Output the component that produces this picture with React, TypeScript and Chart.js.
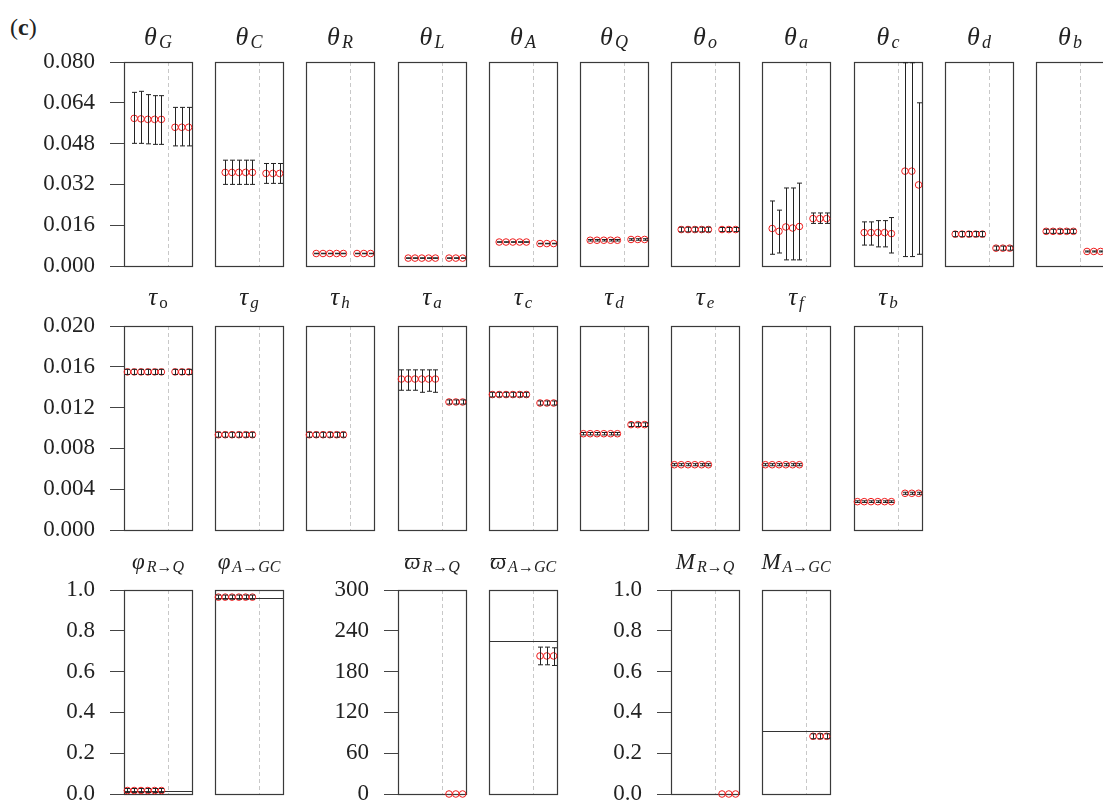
import React, { useEffect, useRef } from "react";
import { Chart, registerables } from "chart.js";
Chart.register(...registerables);

// ---------- data ----------
const xPositions = [0, 1, 2, 3, 4, 5, 6, 7, 8, 9];
const dividerX = 6;

const row1Ticks = [0, 0.016, 0.032, 0.048, 0.064, 0.08];
const row1TickLabels = ["0.000", "0.016", "0.032", "0.048", "0.064", "0.080"];
const row2Ticks = [0, 0.004, 0.008, 0.012, 0.016, 0.02];
const row2TickLabels = ["0.000", "0.004", "0.008", "0.012", "0.016", "0.020"];
const unitTicks = [0, 0.2, 0.4, 0.6, 0.8, 1.0];
const unitTickLabels = ["0.0", "0.2", "0.4", "0.6", "0.8", "1.0"];
const varpiTicks = [0, 60, 120, 180, 240, 300];
const varpiTickLabels = ["0", "60", "120", "180", "240", "300"];

type V = number | null;
const _ = null;

// Row 1 (theta)
const thetaG_mean: V[] = [_, 0.0579, 0.0577, 0.0575, 0.0575, 0.0575, _, 0.0544, 0.0544, 0.0544];
const thetaG_lo: V[] = [_, 0.0481, 0.0481, 0.0479, 0.0477, 0.0477, _, 0.0471, 0.0471, 0.0471];
const thetaG_hi: V[] = [_, 0.0681, 0.0685, 0.0672, 0.0668, 0.0668, _, 0.0622, 0.0622, 0.0622];

const thetaC_mean: V[] = [_, 0.0367, 0.0367, 0.0367, 0.0367, 0.0367, _, 0.0363, 0.0363, 0.0363];
const thetaC_lo: V[] = [_, 0.032, 0.032, 0.032, 0.032, 0.032, _, 0.0324, 0.0324, 0.0324];
const thetaC_hi: V[] = [_, 0.0415, 0.0415, 0.0415, 0.0415, 0.0415, _, 0.0402, 0.0402, 0.0402];

const thetaR_mean: V[] = [_, 0.0049, 0.0049, 0.0049, 0.0049, 0.0049, _, 0.0049, 0.0049, 0.0049];
const thetaR_lo: V[] = [_, 0.0048, 0.0048, 0.0048, 0.0048, 0.0048, _, 0.0048, 0.0048, 0.0048];
const thetaR_hi: V[] = [_, 0.005, 0.005, 0.005, 0.005, 0.005, _, 0.005, 0.005, 0.005];

const thetaL_mean: V[] = [_, 0.0031, 0.0031, 0.0031, 0.0031, 0.0031, _, 0.0031, 0.0031, 0.0031];
const thetaL_lo: V[] = [_, 0.003, 0.003, 0.003, 0.003, 0.003, _, 0.003, 0.003, 0.003];
const thetaL_hi: V[] = [_, 0.0032, 0.0032, 0.0032, 0.0032, 0.0032, _, 0.0032, 0.0032, 0.0032];

const thetaA_mean: V[] = [_, 0.0094, 0.0094, 0.0094, 0.0094, 0.0094, _, 0.0088, 0.0088, 0.0088];
const thetaA_lo: V[] = [_, 0.0093, 0.0093, 0.0093, 0.0093, 0.0093, _, 0.0087, 0.0087, 0.0087];
const thetaA_hi: V[] = [_, 0.0095, 0.0095, 0.0095, 0.0095, 0.0095, _, 0.0089, 0.0089, 0.0089];

const thetaQ_mean: V[] = [_, 0.0101, 0.0101, 0.0101, 0.0101, 0.0101, _, 0.0104, 0.0104, 0.0104];
const thetaQ_lo: V[] = [_, 0.0098, 0.0098, 0.0098, 0.0098, 0.0098, _, 0.0101, 0.0101, 0.0101];
const thetaQ_hi: V[] = [_, 0.0104, 0.0104, 0.0104, 0.0104, 0.0104, _, 0.0107, 0.0107, 0.0107];

const thetao_mean: V[] = [_, 0.0143, 0.0143, 0.0143, 0.0143, 0.0143, _, 0.0143, 0.0143, 0.0143];
const thetao_lo: V[] = [_, 0.0134, 0.0134, 0.0134, 0.0134, 0.0134, _, 0.0135, 0.0135, 0.0135];
const thetao_hi: V[] = [_, 0.0152, 0.0152, 0.0152, 0.0152, 0.0152, _, 0.0151, 0.0151, 0.0151];

const thetaa_mean: V[] = [_, 0.0147, 0.0136, 0.0153, 0.0149, 0.0155, _, 0.0186, 0.0186, 0.0186];
const thetaa_lo: V[] = [_, 0.0046, 0.0051, 0.0024, 0.0024, 0.0024, _, 0.0167, 0.0167, 0.0167];
const thetaa_hi: V[] = [_, 0.0255, 0.0219, 0.0306, 0.0306, 0.0325, _, 0.0208, 0.0208, 0.0208];

const thetac_mean: V[] = [_, 0.0131, 0.0131, 0.0131, 0.0131, 0.0127, _, 0.0372, 0.0372, 0.0318];
const thetac_lo: V[] = [_, 0.0082, 0.0082, 0.0075, 0.0075, 0.0051, _, 0.0037, 0.0037, 0.0046];
const thetac_hi: V[] = [_, 0.0173, 0.0173, 0.0178, 0.0178, 0.019, _, 0.0797, 0.0797, 0.064];

const thetad_mean: V[] = [_, 0.0125, 0.0125, 0.0125, 0.0125, 0.0125, _, 0.007, 0.007, 0.007];
const thetad_lo: V[] = [_, 0.0115, 0.0115, 0.0115, 0.0115, 0.0115, _, 0.0062, 0.0062, 0.0062];
const thetad_hi: V[] = [_, 0.0135, 0.0135, 0.0135, 0.0135, 0.0135, _, 0.0078, 0.0078, 0.0078];

const thetab_mean: V[] = [_, 0.0136, 0.0136, 0.0136, 0.0136, 0.0136, _, 0.0057, 0.0057, 0.0057];
const thetab_lo: V[] = [_, 0.0128, 0.0128, 0.0128, 0.0128, 0.0128, _, 0.0055, 0.0055, 0.0055];
const thetab_hi: V[] = [_, 0.0144, 0.0144, 0.0144, 0.0144, 0.0144, _, 0.0059, 0.0059, 0.0059];

// Row 2 (tau)
const tauo_mean: V[] = [0.0155, 0.0155, 0.0155, 0.0155, 0.0155, 0.0155, _, 0.0155, 0.0155, 0.0155];
const tauo_lo: V[] = [0.01525, 0.01525, 0.01525, 0.01525, 0.01525, 0.01525, _, 0.01525, 0.01525, 0.01525];
const tauo_hi: V[] = [0.01575, 0.01575, 0.01575, 0.01575, 0.01575, 0.01575, _, 0.01575, 0.01575, 0.01575];

const taug_mean: V[] = [0.00934, 0.00934, 0.00934, 0.00934, 0.00934, 0.00934, _, _, _, _];
const taug_lo: V[] = [0.0091, 0.0091, 0.0091, 0.0091, 0.0091, 0.0091, _, _, _, _];
const taug_hi: V[] = [0.00958, 0.00958, 0.00958, 0.00958, 0.00958, 0.00958, _, _, _, _];

const tauh_mean: V[] = [0.00934, 0.00934, 0.00934, 0.00934, 0.00934, 0.00934, _, _, _, _];
const tauh_lo: V[] = [0.0091, 0.0091, 0.0091, 0.0091, 0.0091, 0.0091, _, _, _, _];
const tauh_hi: V[] = [0.00958, 0.00958, 0.00958, 0.00958, 0.00958, 0.00958, _, _, _, _];

const taua_mean: V[] = [0.0148, 0.0148, 0.0148, 0.0148, 0.0148, 0.0148, _, 0.01255, 0.01255, 0.01255];
const taua_lo: V[] = [0.0137, 0.0137, 0.0137, 0.0135, 0.0136, 0.0135, _, 0.01235, 0.01235, 0.01235];
const taua_hi: V[] = [0.0157, 0.0157, 0.0157, 0.0157, 0.0157, 0.0157, _, 0.01275, 0.01275, 0.01275];

const tauc_mean: V[] = [0.01328, 0.01328, 0.01328, 0.01328, 0.01328, 0.01328, _, 0.01245, 0.01245, 0.01245];
const tauc_lo: V[] = [0.01305, 0.01305, 0.01305, 0.01305, 0.01305, 0.01305, _, 0.01225, 0.01225, 0.01225];
const tauc_hi: V[] = [0.0135, 0.0135, 0.0135, 0.0135, 0.0135, 0.0135, _, 0.01265, 0.01265, 0.01265];

const taud_mean: V[] = [0.00944, 0.00944, 0.00944, 0.00944, 0.00944, 0.00944, _, 0.01033, 0.01033, 0.01033];
const taud_lo: V[] = [0.00932, 0.00932, 0.00932, 0.00932, 0.00932, 0.00932, _, 0.01015, 0.01015, 0.01015];
const taud_hi: V[] = [0.00956, 0.00956, 0.00956, 0.00956, 0.00956, 0.00956, _, 0.01051, 0.01051, 0.01051];

const taue_mean: V[] = [0.0064, 0.0064, 0.0064, 0.0064, 0.0064, 0.0064, _, _, _, _];
const taue_lo: V[] = [0.0063, 0.0063, 0.0063, 0.0063, 0.0063, 0.0063, _, _, _, _];
const taue_hi: V[] = [0.0065, 0.0065, 0.0065, 0.0065, 0.0065, 0.0065, _, _, _, _];

const tauf_mean: V[] = [0.0064, 0.0064, 0.0064, 0.0064, 0.0064, 0.0064, _, _, _, _];
const tauf_lo: V[] = [0.0063, 0.0063, 0.0063, 0.0063, 0.0063, 0.0063, _, _, _, _];
const tauf_hi: V[] = [0.0065, 0.0065, 0.0065, 0.0065, 0.0065, 0.0065, _, _, _, _];

const taub_mean: V[] = [0.00278, 0.00278, 0.00278, 0.00278, 0.00278, 0.00278, _, 0.0036, 0.0036, 0.0036];
const taub_lo: V[] = [0.0027, 0.0027, 0.0027, 0.0027, 0.0027, 0.0027, _, 0.0035, 0.0035, 0.0035];
const taub_hi: V[] = [0.00286, 0.00286, 0.00286, 0.00286, 0.00286, 0.00286, _, 0.0037, 0.0037, 0.0037];

// Row 3 (transition parameters)
const phiRQ_mean: V[] = [0.017, 0.017, 0.017, 0.017, 0.017, 0.017, _, _, _, _];
const phiRQ_lo: V[] = [0.007, 0.007, 0.007, 0.007, 0.007, 0.007, _, _, _, _];
const phiRQ_hi: V[] = [0.027, 0.027, 0.027, 0.027, 0.027, 0.027, _, _, _, _];
const phiRQ_true = 0.016;

const phiAGC_mean: V[] = [0.965, 0.965, 0.965, 0.965, 0.965, 0.965, _, _, _, _];
const phiAGC_lo: V[] = [0.955, 0.955, 0.955, 0.955, 0.955, 0.955, _, _, _, _];
const phiAGC_hi: V[] = [0.975, 0.975, 0.975, 0.975, 0.975, 0.975, _, _, _, _];
const phiAGC_true = 0.963;

const varpiRQ_mean: V[] = [_, _, _, _, _, _, _, 0, 0, 0];
const varpiRQ_lo: V[] = [_, _, _, _, _, _, _, 0, 0, 0];
const varpiRQ_hi: V[] = [_, _, _, _, _, _, _, 0, 0, 0];
const varpiRQ_true = 0;

const varpiAGC_mean: V[] = [_, _, _, _, _, _, _, 203, 203, 203];
const varpiAGC_lo: V[] = [_, _, _, _, _, _, _, 190, 190, 189];
const varpiAGC_hi: V[] = [_, _, _, _, _, _, _, 216, 216, 215];
const varpiAGC_true = 225;

const MRQ_mean: V[] = [_, _, _, _, _, _, _, 0, 0, 0];
const MRQ_lo: V[] = [_, _, _, _, _, _, _, 0, 0, 0];
const MRQ_hi: V[] = [_, _, _, _, _, _, _, 0, 0, 0];
const MRQ_true = 0;

const MAGC_mean: V[] = [_, _, _, _, _, _, _, 0.283, 0.283, 0.283];
const MAGC_lo: V[] = [_, _, _, _, _, _, _, 0.271, 0.271, 0.271];
const MAGC_hi: V[] = [_, _, _, _, _, _, _, 0.295, 0.295, 0.295];
const MAGC_true = 0.311;

// ---------- layout / style ----------
const SERIF = '"Liberation Serif", "DejaVu Serif", serif';
const RED = "#ee1c1c";
const INK = "#222";
const PAD_L = 120;
const PAD_T = 50;
const PAD_R = 12;
const PAD_B = 18;
const PANEL_W = 68;
const PANEL_H = 204;
const COL0 = 124;
const COL_PITCH = 91.2;
const ROW_TOPS = [62, 326, 590];
const TITLE_OFF = [17, 21, 21];
const TITLE_MAIN = [26, 25, 23];
const TITLE_SUB = [18, 17, 16];

type Panel = {
  row: number;
  col: number;
  sym: string;
  sub: string;
  subItalic: boolean;
  mean: V[];
  lo: V[];
  hi: V[];
  truth: number | null;
  labeled: boolean;
  min: number;
  max: number;
  ticks: number[];
  tickLabels: string[];
};

const r1 = (col: number, sym: string, sub: string, mean: V[], lo: V[], hi: V[]): Panel => ({
  row: 0, col, sym, sub, subItalic: true, mean, lo, hi, truth: null, labeled: col === 0,
  min: 0, max: 0.08, ticks: row1Ticks, tickLabels: row1TickLabels,
});
const r2 = (col: number, sym: string, sub: string, mean: V[], lo: V[], hi: V[], subItalic = true): Panel => ({
  row: 1, col, sym, sub, subItalic, mean, lo, hi, truth: null, labeled: col === 0,
  min: 0, max: 0.02, ticks: row2Ticks, tickLabels: row2TickLabels,
});
const r3 = (col: number, sym: string, sub: string, mean: V[], lo: V[], hi: V[], truth: number, labeled: boolean, isVarpi: boolean): Panel => ({
  row: 2, col, sym, sub, subItalic: true, mean, lo, hi, truth, labeled,
  min: 0, max: isVarpi ? 300 : 1, ticks: isVarpi ? varpiTicks : unitTicks, tickLabels: isVarpi ? varpiTickLabels : unitTickLabels,
});

const panels: Panel[] = [
  r1(0, "θ", "G", thetaG_mean, thetaG_lo, thetaG_hi),
  r1(1, "θ", "C", thetaC_mean, thetaC_lo, thetaC_hi),
  r1(2, "θ", "R", thetaR_mean, thetaR_lo, thetaR_hi),
  r1(3, "θ", "L", thetaL_mean, thetaL_lo, thetaL_hi),
  r1(4, "θ", "A", thetaA_mean, thetaA_lo, thetaA_hi),
  r1(5, "θ", "Q", thetaQ_mean, thetaQ_lo, thetaQ_hi),
  r1(6, "θ", "o", thetao_mean, thetao_lo, thetao_hi),
  r1(7, "θ", "a", thetaa_mean, thetaa_lo, thetaa_hi),
  r1(8, "θ", "c", thetac_mean, thetac_lo, thetac_hi),
  r1(9, "θ", "d", thetad_mean, thetad_lo, thetad_hi),
  r1(10, "θ", "b", thetab_mean, thetab_lo, thetab_hi),
  r2(0, "τ", "o", tauo_mean, tauo_lo, tauo_hi, false),
  r2(1, "τ", "g", taug_mean, taug_lo, taug_hi),
  r2(2, "τ", "h", tauh_mean, tauh_lo, tauh_hi),
  r2(3, "τ", "a", taua_mean, taua_lo, taua_hi),
  r2(4, "τ", "c", tauc_mean, tauc_lo, tauc_hi),
  r2(5, "τ", "d", taud_mean, taud_lo, taud_hi),
  r2(6, "τ", "e", taue_mean, taue_lo, taue_hi),
  r2(7, "τ", "f", tauf_mean, tauf_lo, tauf_hi),
  r2(8, "τ", "b", taub_mean, taub_lo, taub_hi),
  r3(0, "φ", "R→Q", phiRQ_mean, phiRQ_lo, phiRQ_hi, phiRQ_true, true, false),
  r3(1, "φ", "A→GC", phiAGC_mean, phiAGC_lo, phiAGC_hi, phiAGC_true, false, false),
  r3(3, "ϖ", "R→Q", varpiRQ_mean, varpiRQ_lo, varpiRQ_hi, varpiRQ_true, true, true),
  r3(4, "ϖ", "A→GC", varpiAGC_mean, varpiAGC_lo, varpiAGC_hi, varpiAGC_true, false, true),
  r3(6, "M", "R→Q", MRQ_mean, MRQ_lo, MRQ_hi, MRQ_true, true, false),
  r3(7, "M", "A→GC", MAGC_mean, MAGC_lo, MAGC_hi, MAGC_true, false, false),
];

const CW = PAD_L + PANEL_W + PAD_R;
const CH = PAD_T + PANEL_H + PAD_B;

function makeDecor(p: Panel) {
  return {
    id: "panelDecor",
    beforeDatasetsDraw(chart: any) {
      const { ctx, chartArea: a, scales } = chart;
      const x = scales.x;
      const y = scales.y;
      ctx.save();
      // dashed divider
      const dx = Math.round(x.getPixelForValue(dividerX)) + 0.5;
      ctx.strokeStyle = "#c8c8c8";
      ctx.lineWidth = 1;
      ctx.setLineDash([4, 3]);
      ctx.beginPath();
      ctx.moveTo(dx, a.top);
      ctx.lineTo(dx, a.bottom);
      ctx.stroke();
      ctx.setLineDash([]);
      // true value line
      if (p.truth !== null) {
        const ty = Math.round(y.getPixelForValue(p.truth)) + 0.5;
        ctx.strokeStyle = "#333";
        ctx.beginPath();
        ctx.moveTo(a.left, ty);
        ctx.lineTo(a.right, ty);
        ctx.stroke();
      }
      // frame
      ctx.strokeStyle = "#3a3a3a";
      ctx.lineWidth = 1.2;
      ctx.strokeRect(Math.round(a.left) + 0.5, Math.round(a.top) + 0.5, Math.round(a.right - a.left), Math.round(a.bottom - a.top));
      ctx.restore();
    },
    afterDatasetsDraw(chart: any) {
      const { ctx, scales } = chart;
      const x = scales.x;
      const y = scales.y;
      ctx.save();
      ctx.strokeStyle = INK;
      ctx.lineWidth = 1;
      xPositions.forEach((xv, i) => {
        const m = p.mean[i];
        const lo = p.lo[i];
        const hi = p.hi[i];
        if (m === null || lo === null || hi === null || lo === hi) return;
        const px = Math.round(x.getPixelForValue(xv)) + 0.5;
        const y1 = y.getPixelForValue(lo);
        const y2 = y.getPixelForValue(hi);
        ctx.beginPath();
        ctx.moveTo(px, y1);
        ctx.lineTo(px, y2);
        ctx.moveTo(px - 2.5, y1);
        ctx.lineTo(px + 2.5, y1);
        ctx.moveTo(px - 2.5, y2);
        ctx.lineTo(px + 2.5, y2);
        ctx.stroke();
      });
      ctx.restore();
    },
    afterDraw(chart: any) {
      const { ctx, chartArea: a } = chart;
      const mainF = `italic ${TITLE_MAIN[p.row]}px ${SERIF}`;
      const subF = `${p.subItalic ? "italic " : ""}${TITLE_SUB[p.row]}px ${SERIF}`;
      ctx.save();
      ctx.fillStyle = INK;
      ctx.textBaseline = "alphabetic";
      ctx.textAlign = "left";
      ctx.font = mainF;
      const w1 = ctx.measureText(p.sym).width;
      ctx.font = subF;
      const w2 = ctx.measureText(p.sub).width;
      const gap = 2;
      const cx = (a.left + a.right) / 2;
      const x0 = cx - (w1 + gap + w2) / 2;
      const base = a.top - TITLE_OFF[p.row];
      ctx.font = mainF;
      ctx.fillText(p.sym, x0, base);
      ctx.font = subF;
      ctx.fillText(p.sub, x0 + w1 + gap, base + 3);
      ctx.restore();
    },
  };
}

function PanelChart({ p }: { p: Panel }) {
  const ref = useRef<HTMLCanvasElement>(null);
  useEffect(() => {
    const pts = xPositions
      .map((x, i) => (p.mean[i] === null ? null : { x, y: p.mean[i] as number }))
      .filter((d) => d !== null) as { x: number; y: number }[];
    const chart = new Chart(ref.current as HTMLCanvasElement, {
      type: "scatter",
      data: {
        datasets: [
          {
            data: pts,
            pointRadius: 3.3,
            pointHoverRadius: 3.3,
            pointBorderWidth: 1,
            borderColor: RED,
            backgroundColor: "rgba(0,0,0,0)",
            pointBackgroundColor: "rgba(0,0,0,0)",
            clip: false as any,
          },
        ],
      },
      options: {
        animation: false,
        responsive: false,
        events: [],
        layout: {
          autoPadding: false,
          padding: { left: p.labeled ? 0 : PAD_L, top: PAD_T, right: PAD_R, bottom: PAD_B },
        },
        plugins: { legend: { display: false }, tooltip: { enabled: false } },
        scales: {
          x: { type: "linear", display: false, min: -0.5, max: 9.5 },
          y: {
            type: "linear",
            display: p.labeled,
            min: p.min,
            max: p.max,
            afterFit: (s: any) => {
              s.width = p.labeled ? PAD_L : 0;
              s.paddingTop = 0;
              s.paddingBottom = 0;
            },
            afterBuildTicks: (s: any) => {
              s.ticks = p.ticks.map((v) => ({ value: v }));
            },
            ticks: {
              autoSkip: false,
              callback: (_v: any, i: number) => p.tickLabels[i],
              font: { family: SERIF, size: 23 },
              color: INK,
              padding: 15,
            },
            grid: { drawOnChartArea: false, drawTicks: true, tickLength: 14, tickColor: "#444", tickWidth: 1 },
            border: { display: false },
          },
        },
      },
      plugins: [makeDecor(p)],
    } as any);
    return () => chart.destroy();
  }, []);
  const left = Math.round(COL0 + COL_PITCH * p.col) - PAD_L;
  const top = ROW_TOPS[p.row] - PAD_T;
  return <canvas ref={ref} width={CW} height={CH} style={{ position: "absolute", left, top, width: CW, height: CH }} />;
}

export default function App() {
  return (
    <div style={{ position: "fixed", left: 0, top: 0, width: 1103, height: 804, overflow: "hidden", background: "#fff" }}>
      <div style={{ position: "absolute", left: 10, top: 14, fontFamily: SERIF, fontSize: 24, lineHeight: "26px", color: INK }}>
        (<b>c</b>)
      </div>
      {panels.map((p, i) => (
        <PanelChart key={i} p={p} />
      ))}
    </div>
  );
}
